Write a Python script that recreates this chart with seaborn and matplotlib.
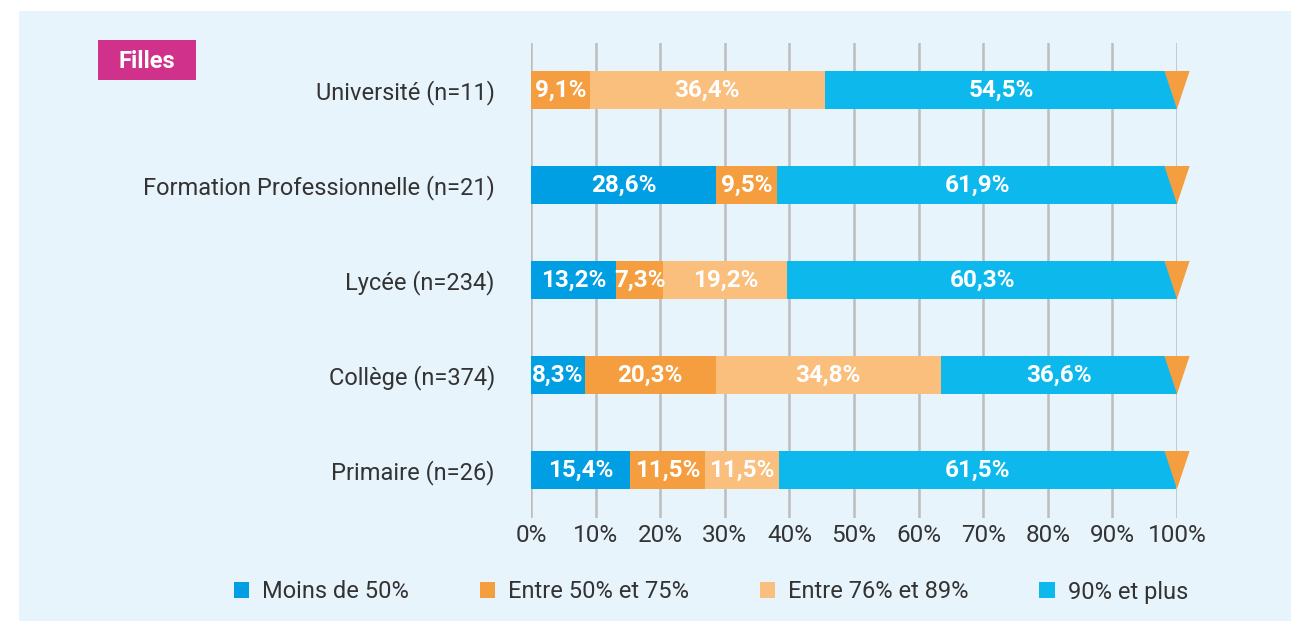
import matplotlib
matplotlib.use("Agg")
import matplotlib.pyplot as plt
from matplotlib.patches import Rectangle, Patch
import numpy as np
import pandas as pd
import seaborn as sns

categories = [
    "Université (n=11)",
    "Formation Professionnelle (n=21)",
    "Lycée (n=234)",
    "Collège (n=374)",
    "Primaire (n=26)",
]
series_names = ["Moins de 50%", "Entre 50% et 75%", "Entre 76% et 89%", "90% et plus"]
moins_50 = [0.0, 28.6, 13.2, 8.3, 15.4]
entre_50_75 = [9.1, 9.5, 7.3, 20.3, 11.5]
entre_76_89 = [36.4, 0.0, 19.2, 34.8, 11.5]
plus_90 = [54.5, 61.9, 60.3, 36.6, 61.5]
x_ticks = [0, 10, 20, 30, 40, 50, 60, 70, 80, 90, 100]

colors = ["#009FE3", "#F59E3F", "#FABE7D", "#0DB9EC"]
bg = "#E8F4FC"
font = "Roboto"

df = pd.DataFrame(
    {"cat": categories, series_names[0]: moins_50, series_names[1]: entre_50_75,
     series_names[2]: entre_76_89, series_names[3]: plus_90}
)
values = df[series_names].to_numpy()
cum = values.cumsum(axis=1)
starts = cum - values

sns.set_style("white")
plt.rcParams["font.family"] = [font, "DejaVu Sans"]

W, H = 1291, 621
fig = plt.figure(figsize=(W / 100, H / 100), dpi=100)
fig.patch.set_facecolor("white")
fig.add_artist(Rectangle((19 / W, 0), 1 - 19 / W, 1 - 11 / H,
                         transform=fig.transFigure, facecolor=bg, edgecolor="none", zorder=-10))

ax = fig.add_axes([531 / W, 1 - 517.5 / H, 646 / W, 475 / H])
ax.set_facecolor("none")

# stacked bars: draw cumulative totals from the largest down
for j in range(len(series_names) - 1, -1, -1):
    tmp = pd.DataFrame({"cat": categories, "val": cum[:, j]})
    sns.barplot(data=tmp, x="val", y="cat", orient="h", color=colors[j],
                width=0.4, saturation=1, ax=ax, zorder=3, linewidth=0)

# labels
for i in range(len(categories)):
    for j in range(len(series_names)):
        v = values[i, j]
        if v <= 0:
            continue
        ax.text(starts[i, j] + v / 2, i, f"{v:.1f}%".replace(".", ","),
                ha="center", va="center", color="white", fontsize=17.5,
                fontweight="bold", zorder=5)

# orange end markers at 100%
for i in range(len(categories)):
    ax.fill([98.05, 101.95, 100], [i - 0.2, i - 0.2, i + 0.2], color=colors[1],
            zorder=4, clip_on=False, linewidth=0)

ax.set_xlim(0, 100)
ax.set_ylim(4.5, -0.5)
ax.set_xticks(x_ticks)
ax.set_xticklabels([f"{t}%" for t in x_ticks], fontsize=17.5, color="#333333")
ax.tick_params(axis="x", length=0, pad=5)
ax.tick_params(axis="y", length=0, pad=26, labelsize=17, labelcolor="#333333")
ax.set_xlabel("")
ax.set_ylabel("")
ax.grid(axis="x", color="#BDBDBD", linewidth=1.8, zorder=0)
ax.grid(axis="y", visible=False)
for s in ax.spines.values():
    s.set_visible(False)

# "Filles" tag
fig.add_artist(Rectangle((98 / W, 1 - 80 / H), 98 / W, 40 / H, transform=fig.transFigure,
                         facecolor="#D0318A", edgecolor="none"))
fig.text(147 / W, 1 - 61 / H, "Filles", ha="center", va="center", color="white",
         fontsize=17, fontweight="bold")

handles = [Patch(facecolor=c, edgecolor="none") for c in colors]
fig.legend(handles, series_names, loc="center", bbox_to_anchor=(711 / W, 1 - 592 / H),
           ncol=4, frameon=False, fontsize=17, handlelength=0.64, handleheight=0.64,
           handletextpad=0.55, columnspacing=3.0, labelcolor="#333333")

fig.savefig("out.png", dpi=100, facecolor=fig.get_facecolor())
